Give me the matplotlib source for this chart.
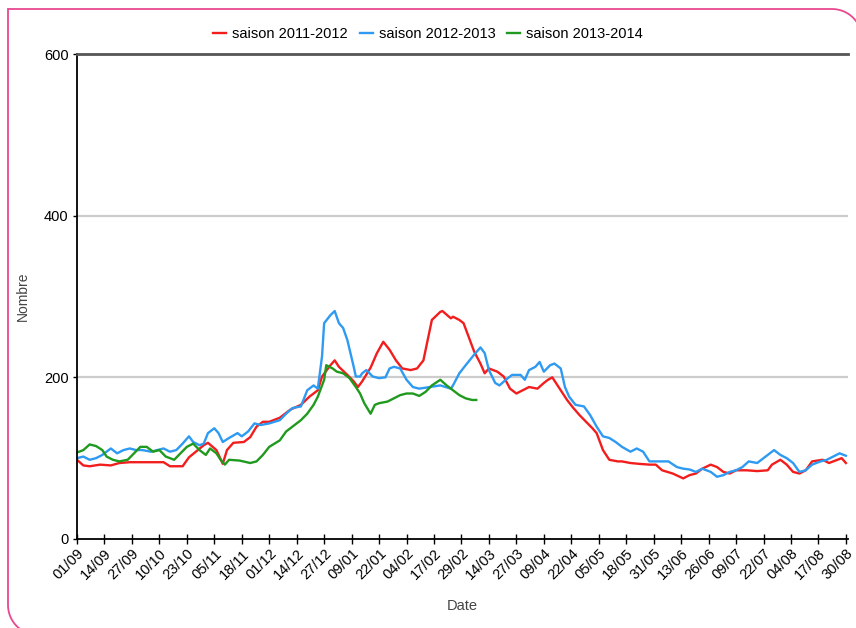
import numpy as np
import matplotlib
matplotlib.use("Agg")
import matplotlib.pyplot as plt
from matplotlib.path import Path
from matplotlib.patches import PathPatch

plt.rcParams["font.family"] = ["Liberation Sans", "DejaVu Sans"]

# days counted from 01/09
days_1112 = [0, 3, 6, 11, 16, 20, 25, 30, 35, 41, 44, 50, 53, 60, 62, 66, 69, 71, 74, 79,
             82, 85, 88, 91, 96, 101, 106, 110, 114, 116, 120, 122, 124, 128, 131, 133, 135,
             139, 142, 145, 148, 151, 154, 158, 161, 164, 166, 168, 172, 173, 177, 178, 181,
             183, 186, 188, 191, 193, 195, 199, 202, 205, 208, 211, 214, 218, 221, 223, 225,
             229, 232, 235, 238, 241, 244, 246, 249, 252, 256, 258, 262, 266, 271, 274, 277,
             282, 287, 290, 293, 296, 300, 303, 306, 309, 312, 317, 322, 327, 329, 333, 336,
             339, 342, 345, 348, 353, 356, 360, 362, 364]
vals_1112 = [98, 91, 90, 92, 91, 94, 95, 95, 95, 95, 90, 90, 101, 116, 119, 110, 93, 110, 119, 120,
             126, 139, 145, 145, 150, 160, 166, 176, 184, 201, 215, 221, 213, 203, 195, 188, 195,
             212, 230, 244, 234, 221, 211, 209, 211, 221, 246, 271, 281, 282, 273, 275, 271,
             267, 246, 232, 217, 205, 211, 207, 201, 186, 180, 184, 188, 186, 193, 197, 200,
             184, 172, 162, 153, 145, 137, 131, 110, 98, 96, 96, 94, 93, 92, 92, 85,
             81, 75, 79, 81, 87, 92, 89, 83, 81, 85, 85, 84, 85, 92, 98, 92,
             83, 81, 85, 96, 98, 94, 98, 100, 94]

days_1213 = [0, 3, 6, 9, 12, 16, 19, 22, 25, 28, 31, 35, 38, 41, 44, 47, 50, 53, 55, 58, 60,
             62, 65, 67, 69, 72, 76, 78, 81, 84, 87, 91, 96, 99, 102, 106, 109, 112, 114, 116,
             117, 120, 122, 124, 126, 128, 131, 132, 134, 135, 137, 140, 143, 146, 148, 150,
             153, 156, 159, 162, 167, 172, 177, 178, 181, 184, 188, 191, 193, 195, 198, 200,
             203, 206, 210, 212, 214, 217, 219, 221, 224, 226, 229, 231, 233, 236, 240, 243,
             246, 249, 252, 255, 258, 262, 265, 268, 271, 274, 277, 280, 284, 287, 290, 293,
             296, 300, 303, 306, 309, 312, 315, 318, 322, 325, 328, 330, 333, 336, 339, 342,
             345, 348, 352, 355, 358, 361, 364]
vals_1213 = [100, 102, 98, 100, 104, 112, 106, 110, 112, 110, 110, 108, 110, 112, 108, 110, 118, 127, 120, 116, 118,
             131, 137, 131, 120, 125, 131, 127, 133, 143, 141, 143, 147, 155, 162, 164, 184, 190, 186, 226,
             267, 277, 282, 267, 261, 246, 213, 201, 201, 205, 209, 201, 199, 200, 211, 213,
             211, 197, 188, 186, 188, 190, 186, 190, 205, 215, 228, 237, 230, 209, 193, 190,
             197, 203, 203, 197, 209, 213, 219, 207, 215, 217, 211, 188, 176, 166, 164, 153,
             139, 127, 125, 120, 114, 108, 112, 108, 96, 96, 96, 96, 89, 87, 86, 83,
             87, 83, 77, 79, 83, 85, 89, 96, 94, 100, 106, 110, 104, 100, 94, 83,
             85, 92, 96, 98, 102, 106, 103]

days_1314 = [0, 3, 6, 9, 12, 14, 17, 20, 24, 27, 30, 33, 36, 39, 42, 46, 49, 52, 55, 58, 61,
             63, 66, 68, 70, 72, 77, 82, 85, 88, 91, 96, 99, 102, 106, 109, 112, 114, 117, 118,
             121, 123, 126, 129, 132, 134, 136, 139, 141, 143, 147, 150, 153, 156, 159, 162,
             165, 168, 172, 175, 178, 181, 184, 187, 189]
vals_1314 = [107, 110, 117, 115, 110, 102, 98, 96, 98, 106, 114, 114, 108, 110, 102, 98, 106, 114, 118, 110, 104,
             112, 106, 98, 92, 98, 97, 94, 96, 104, 114, 122, 133, 139, 147, 155, 166, 176, 197, 215,
             211, 207, 205, 199, 188, 180, 168, 155, 166, 168, 170, 174, 178, 180, 180, 177,
             182, 190, 197, 190, 184, 178, 174, 172, 172]

tick_labels = ["01/09", "14/09", "27/09", "10/10", "23/10", "05/11", "18/11", "01/12", "14/12",
               "27/12", "09/01", "22/01", "04/02", "17/02", "29/02", "14/03", "27/03", "09/04",
               "22/04", "05/05", "18/05", "31/05", "13/06", "26/06", "09/07", "22/07", "04/08",
               "17/08", "30/08"]

W, H = 856, 628
fig = plt.figure(figsize=(W / 100, H / 100), dpi=100)
ax = fig.add_axes([77 / W, 1 - 539 / H, (848 - 77) / W, (539 - 54) / H])

ax.plot(days_1112, vals_1112, color="#f21d1d", lw=1.7, label="saison 2011-2012")
ax.plot(days_1213, vals_1213, color="#2e9af2", lw=1.7, label="saison 2012-2013")
ax.plot(days_1314, vals_1314, color="#1f9a1f", lw=1.7, label="saison 2013-2014")

ax.set_xlim(0, 365)
ax.set_ylim(0, 600)
ax.set_yticks([0, 200, 400, 600])
ax.set_xticks(np.arange(0, 365, 13))
ax.set_xticklabels(tick_labels, rotation=45, ha="right", va="top", rotation_mode="anchor")
ax.tick_params(axis="x", direction="inout", length=7, width=1, labelsize=10.5, pad=2)
ax.tick_params(axis="y", length=3, width=1, labelsize=10.5, pad=3)

for y in (200, 400):
    ax.axhline(y, color="#cccccc", lw=1.6, zorder=0)

ax.spines["right"].set_visible(False)
ax.spines["top"].set_color("#555555")
ax.spines["top"].set_linewidth(2)
ax.spines["left"].set_linewidth(1.3)
ax.spines["bottom"].set_linewidth(1.3)

ax.set_xlabel("Date", fontsize=10.5, color="#444444", labelpad=12)
ax.set_ylabel("Nombre", fontsize=10, color="#444444", labelpad=10)

fig.legend(loc="center", bbox_to_anchor=(0.5, 1 - 34 / H), ncol=3, frameon=False,
           fontsize=10.5, handlelength=0.9, handletextpad=0.4, columnspacing=0.8)

# pink rounded frame around the figure
R = 30
a1 = np.linspace(np.pi / 2, np.pi, 20)
bl = np.column_stack([38 + R * np.cos(a1), 605 + R * np.sin(a1)])
a2 = np.linspace(-np.pi / 2, 0, 20)
tr = np.column_stack([832 + R * np.cos(a2), 39 + R * np.sin(a2)])
pts = np.vstack([bl, [[8, 9]], tr])
pts = np.column_stack([pts[:, 0] / W, 1 - pts[:, 1] / H])
fig.add_artist(PathPatch(Path(pts), transform=fig.transFigure, fill=False,
                         edgecolor="#e8488f", lw=1.3))

fig.savefig("out.png", dpi=100)
